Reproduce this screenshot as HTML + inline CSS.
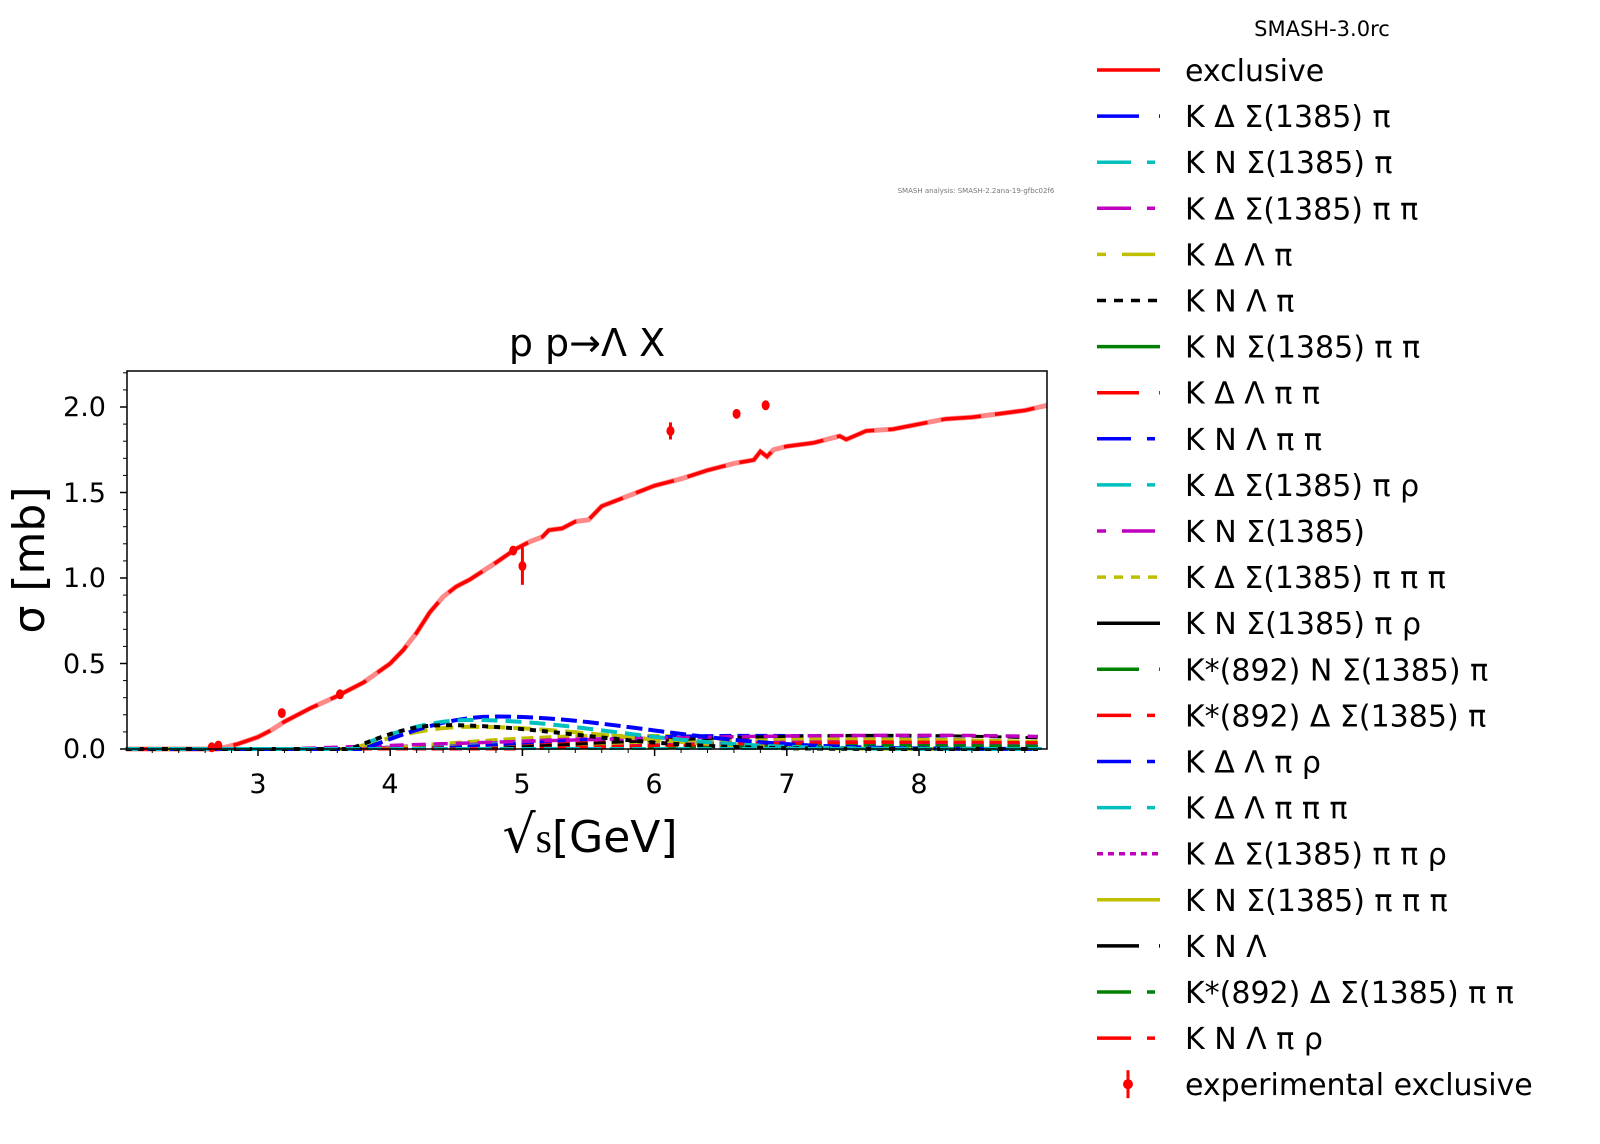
<!DOCTYPE html>
<html><head><meta charset="utf-8"><style>
html,body{margin:0;background:#fff;overflow:hidden}
svg{display:block;font-family:"DejaVu Sans","Liberation Sans",sans-serif}
</style></head><body>
<svg id="s" width="1600" height="1144" viewBox="0 0 1600 1144" xmlns="http://www.w3.org/2000/svg">
<rect width="1600" height="1144" fill="#fff"/>
<g id="curves"></g>
<rect x="127" y="371" width="920" height="378" fill="none" stroke="#000" stroke-width="1.5"/>
<g id="ticks" stroke="#000"></g>
<g font-size="27" text-anchor="middle">
<text x="258" y="793">3</text><text x="390" y="793">4</text><text x="522" y="793">5</text>
<text x="654" y="793">6</text><text x="787" y="793">7</text><text x="919" y="793">8</text>
</g>
<g font-size="27" text-anchor="end">
<text x="106" y="758">0.0</text><text x="106" y="673">0.5</text><text x="106" y="587">1.0</text>
<text x="106" y="502">1.5</text><text x="106" y="416">2.0</text>
</g>
<text x="587" y="356" font-size="38" text-anchor="middle">p p→Λ X</text>
<text x="590" y="852" font-size="44" text-anchor="middle"><tspan font-size="52">√</tspan><tspan font-family="Liberation Serif" font-size="42">s</tspan>[GeV]</text>
<text transform="translate(44,560) rotate(-90)" font-size="44" text-anchor="middle">σ [mb]</text>
<text x="976" y="193" font-size="7" fill="#777" text-anchor="middle">SMASH analysis: SMASH-2.2ana-19-gfbc02f6</text>
<text x="1322" y="36" font-size="21" text-anchor="middle">SMASH-3.0rc</text>
<g id="legend" font-size="30"></g>
</svg>
<script>
const NS="http://www.w3.org/2000/svg";
const X=x=>127+(x-2.009)*132.2, Y=y=>749-y*171;
function el(p,t,a){const e=document.createElementNS(NS,t);for(const k in a)e.setAttribute(k,a[k]);p.appendChild(e);return e;}
const tk=document.getElementById('ticks');
for(let x=2.2;x<8.97;x+=0.2){const m=Math.abs(x-Math.round(x))<0.01;el(tk,'line',{x1:X(x),x2:X(x),y1:749,y2:749+(m?7:4),'stroke-width':m?1.5:1});}
for(let y=0;y<2.21;y+=0.1){const m=Math.abs(y*2-Math.round(y*2))<0.01;el(tk,'line',{x1:127,x2:127-(m?7:4),y1:Y(y),y2:Y(y),'stroke-width':m?1.5:1});}
const cv=document.getElementById('curves');
function line(pts,col,w,dash,op){el(cv,'polyline',{points:pts.map(p=>X(p[0])+','+Y(p[1])).join(' '),fill:'none',stroke:col,'stroke-width':w,'stroke-dasharray':dash||'none',opacity:op||1});}
const red=[[2.0,0],[2.7,0],[2.85,0.03],[3.0,0.07],[3.1,0.11],[3.2,0.16],[3.4,0.24],[3.6,0.31],[3.8,0.39],[4.0,0.5],[4.1,0.58],[4.2,0.68],[4.3,0.8],[4.4,0.89],[4.5,0.95],[4.6,0.99],[4.8,1.09],[4.95,1.17],[5.05,1.21],[5.15,1.24],[5.2,1.28],[5.3,1.29],[5.4,1.33],[5.5,1.34],[5.6,1.42],[5.8,1.48],[6.0,1.54],[6.2,1.58],[6.4,1.63],[6.6,1.67],[6.75,1.69],[6.8,1.74],[6.85,1.71],[6.9,1.75],[7.0,1.77],[7.2,1.79],[7.4,1.83],[7.45,1.81],[7.6,1.86],[7.8,1.87],[8.0,1.9],[8.2,1.93],[8.4,1.94],[8.6,1.96],[8.8,1.98],[8.97,2.01]];
line(red,'#f88',5,null,1);line(red,'red',3.5,'40 14');
function bump(pk,x0,x1,col,dash,w){const p=[];for(let x=2.0;x<=8.97;x+=0.1){let y=0;if(x>x0){const t=(x-x0)/(pk[0]-x0);y=x<pk[0]?pk[1]*Math.sin(Math.PI/2*t):pk[1]*Math.exp(-Math.pow((x-pk[0])/x1,2));}p.push([x,y]);}line(p,col,w||3.5,dash);}
const cols=['#0000ff','#00bfbf','#bf00bf','#bfbf00','#000','#008000','#ff0000'];
for(let i=0;i<14;i++){bump([5+i*0.25,0.02+0.02*(i%4)],3.6+i*0.1,2.5,cols[i%7],'12 6',3);}
bump([8,0.08],3.2,3,'#bf00bf','14 8',3.5);
bump([4.6,0.13],3.7,1.5,'#bfbf00','18 8',4);
bump([4.8,0.19],3.8,1.6,'#0000ff','16 6',4);
bump([4.6,0.17],3.7,1.5,'#00bfbf','16 8',4);
bump([4.4,0.14],3.7,1.4,'#000','6 6',4);
line([[2,0.003],[8.97,0.003]],'#00bfbf',3,'14 8');
const ex=[[2.65,0.01,0],[2.7,0.02,0],[3.18,0.21,0],[3.62,0.32,0],[4.93,1.16,0],[5.0,1.07,0.11],[6.12,1.86,0.05],[6.62,1.96,0],[6.84,2.01,0]];
for(const e of ex){if(e[2])el(cv,'line',{x1:X(e[0]),x2:X(e[0]),y1:Y(e[1]-e[2]),y2:Y(e[1]+e[2]),stroke:'red','stroke-width':3});el(cv,'ellipse',{cx:X(e[0]),cy:Y(e[1]),rx:4,ry:5,fill:'red'});}
const L=[['exclusive','red','none'],['K Δ Σ(1385) π','#0000ff','42 20 4 20'],['K N Σ(1385) π','#00bfbf','34 16 8 16'],['K Δ Σ(1385) π π','#bf00bf','34 16 8 16'],['K Δ Λ π','#bfbf00','9 16 33 16'],['K N Λ π','#000','9 8'],['K N Σ(1385) π π','#008000','none'],['K Δ Λ π π','#ff0000','42 20 4 20'],['K N Λ π π','#0000ff','34 16 8 16'],['K Δ Σ(1385) π ρ','#00bfbf','34 16 8 16'],['K N Σ(1385)','#bf00bf','9 16 33 16'],['K Δ Σ(1385) π π π','#bfbf00','9 8'],['K N Σ(1385) π ρ','#000','none'],['K*(892) N Σ(1385) π','#008000','42 20 4 20'],['K*(892) Δ Σ(1385) π','#ff0000','34 16 8 16'],['K Δ Λ π ρ','#0000ff','34 16 8 16'],['K Δ Λ π π π','#00bfbf','34 16 8 16'],['K Δ Σ(1385) π π ρ','#bf00bf','6 5'],['K N Σ(1385) π π π','#bfbf00','none'],['K N Λ','#000','42 20 4 20'],['K*(892) Δ Σ(1385) π π','#008000','34 16 8 16'],['K N Λ π ρ','#ff0000','34 16 8 16']];
const lg=document.getElementById('legend');
L.forEach((l,i)=>{const y=70+i*46.1;el(lg,'line',{x1:1097,x2:1160,y1:y,y2:y,stroke:l[1],'stroke-width':3.5,'stroke-dasharray':l[2]});const t=el(lg,'text',{x:1185,y:y+11});t.textContent=l[0];});
const y=70+22*46.1;el(lg,'line',{x1:1128,x2:1128,y1:y-14,y2:y+14,stroke:'red','stroke-width':3});el(lg,'circle',{cx:1128,cy:y,r:5,fill:'red'});
const t=el(lg,'text',{x:1185,y:y+11});t.textContent='experimental exclusive';
</script>
</body></html>
